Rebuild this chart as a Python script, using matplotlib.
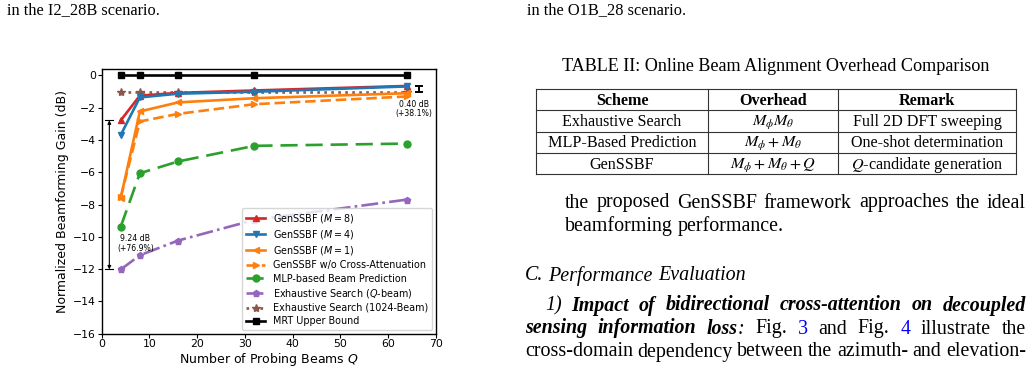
import matplotlib
matplotlib.use('Agg')
import matplotlib.pyplot as plt

W, H = 1034, 374

# ---------------- chart data ----------------
Q = [4, 8, 16, 32, 64]
gen_m8 = [-2.78, -1.25, -1.08, -0.93, -0.65]
gen_m4 = [-3.68, -1.36, -1.13, -1.01, -0.68]
gen_m1 = [-7.57, -2.23, -1.67, -1.41, -1.10]
gen_noca = [-7.55, -2.85, -2.38, -1.78, -1.30]
mlp = [-9.36, -6.06, -5.33, -4.36, -4.22]
exh_q = [-12.02, -11.14, -10.23, -8.95, -7.69]
exh_1024 = [-1.05, -1.05, -1.05, -1.05, -1.05]
mrt = [0.0, 0.0, 0.0, 0.0, 0.0]

labels = [r'GenSSBF ($M=8$)', r'GenSSBF ($M=4$)', r'GenSSBF ($M=1$)',
          'GenSSBF w/o Cross-Attenuation', 'MLP-based Beam Prediction',
          r'Exhaustive Search ($Q$-beam)', 'Exhaustive Search (1024-Beam)',
          'MRT Upper Bound']
xticks = [0, 10, 20, 30, 40, 50, 60, 70]
yticks = [0, -2, -4, -6, -8, -10, -12, -14, -16]

gap_low_text = '9.24 dB\n(+76.9%)'
gap_high_text = '0.40 dB\n(+38.1%)'

# ---------------- page text data ----------------
caption_left = 'in the I2_28B scenario.'
caption_right = 'in the O1B_28 scenario.'
table_title = 'TABLE II: Online Beam Alignment Overhead Comparison'
table_header = ['Scheme', 'Overhead', 'Remark']
table_rows = [
    ['Exhaustive Search', r'$M_\phi M_\theta$', 'Full 2D DFT sweeping'],
    ['MLP-Based Prediction', r'$M_\phi + M_\theta$', 'One-shot determination'],
    ['GenSSBF', r'$M_\phi + M_\theta + Q$', r'$Q$-candidate generation'],
]

SERIF = 'Liberation Serif'

fig = plt.figure(figsize=(W / 100, H / 100), dpi=100)
fig.patch.set_facecolor('white')
renderer = fig.canvas.get_renderer()


def fx(x):
    return x / W


def fy(y):
    return 1 - y / H


# ---------------- chart ----------------
ax = fig.add_axes([101.7 / W, 1 - 333.7 / H, (435.7 - 101.7) / W, (333.7 - 69.0) / H])
lw = 1.9
ms = 5
ax.plot(Q, gen_m8, color='tab:red', marker='^', ls='-', lw=lw, ms=ms, label=labels[0], zorder=5)
ax.plot(Q, gen_m4, color='tab:blue', marker='v', ls='-', lw=lw, ms=ms, label=labels[1], zorder=5)
ax.plot(Q, gen_m1, color='tab:orange', marker='<', ls='-', lw=lw, ms=ms, label=labels[2], zorder=4)
ax.plot(Q, gen_noca, color='tab:orange', marker='>', ls=(0, (4.0, 1.8)), lw=lw, ms=ms, label=labels[3], zorder=4)
ax.plot(Q, mlp, color='tab:green', marker='o', ls=(0, (6.5, 3.0)), lw=lw, ms=ms, label=labels[4], zorder=3)
ax.plot(Q, exh_q, color='tab:purple', marker='p', ls='-.', lw=lw, ms=ms, label=labels[5], zorder=3)
ax.plot(Q, exh_1024, color='tab:brown', marker='*', ls=':', lw=lw, ms=ms + 1, label=labels[6], zorder=3)
ax.plot(Q, mrt, color='black', marker='s', ls='-', lw=lw, ms=ms, label=labels[7], zorder=6)

ax.set_xlim(0, 70)
ax.set_ylim(-16, 0.4)
ax.set_xticks(xticks)
ax.set_yticks(yticks)
ax.tick_params(labelsize=7.8, length=2.6, pad=1.5, width=0.8)
ax.set_xlabel(r'Number of Probing Beams $Q$', fontsize=9, labelpad=1)
ax.set_ylabel('Normalized Beamforming Gain (dB)', fontsize=9, labelpad=3)
for sp in ax.spines.values():
    sp.set_linewidth(1.0)

# gap annotations
y_top = gen_m8[0]
y_bot = exh_q[0]
ax.annotate('', xy=(1.6, y_bot), xytext=(1.6, y_top),
            arrowprops=dict(arrowstyle='<|-|>', lw=0.8, color='black',
                            shrinkA=0, shrinkB=0, mutation_scale=5))
ax.plot([0.7, 2.4], [y_top, y_top], color='black', lw=0.8, clip_on=False)
ax.plot([0.7, 2.4], [y_bot, y_bot], color='black', lw=0.8, clip_on=False)
ax.text(7.05, -10.4, gap_low_text, fontsize=5.6, ha='center', va='center', linespacing=1.1)

ax.errorbar([66.4], [(gen_m8[-1] + exh_1024[-1]) / 2], yerr=[(gen_m8[-1] - exh_1024[-1]) / 2],
            color='black', lw=1.4, capsize=2.9, capthick=1.4, fmt='none', zorder=7)
ax.text(65.5, -2.07, gap_high_text, fontsize=5.6, ha='center', va='center', linespacing=1.1)

ax.legend(loc='lower right', fontsize=6.9, labelspacing=0.33, borderaxespad=0.4,
          handlelength=2.0, borderpad=0.4, handletextpad=0.8)


# ---------------- page text ----------------
STY = {
    'r': dict(style='normal', weight='normal', color='black'),
    'i': dict(style='italic', weight='normal', color='black'),
    'bi': dict(style='italic', weight='bold', color='black'),
    'blue': dict(style='normal', weight='normal', color='#0000ff'),
}


def seg_width(text, size, s):
    t = fig.text(0, 0, text, fontfamily=SERIF, fontsize=size, **STY[s])
    w = t.get_window_extent(renderer).width
    t.remove()
    return w


def words_of(segs):
    words = [[]]
    for text, s in segs:
        parts = text.split(' ')
        for i, p in enumerate(parts):
            if i > 0:
                words.append([])
            if p:
                words[-1].append((p, s))
    return [w for w in words if w]


def draw_line(segs, x0, x1, yb, size, justify=True):
    words = words_of(segs)
    widths = [[seg_width(t, size, s) for t, s in w] for w in words]
    tot = sum(sum(ws) for ws in widths)
    n = len(words)
    if justify and n > 1:
        gap = (x1 - x0 - tot) / (n - 1)
    else:
        gap = 0.25 * size * 100 / 72
    x = x0
    for w, ws in zip(words, widths):
        for (t, s), sw in zip(w, ws):
            fig.text(fx(x), fy(yb), t, fontfamily=SERIF, fontsize=size,
                     va='baseline', ha='left', **STY[s])
            x += sw
        x += gap


BODY = 14.4
fig.text(fx(7), fy(14), caption_left, fontfamily=SERIF, fontsize=11.8, va='baseline', ha='left')
fig.text(fx(526.7), fy(14), caption_right, fontfamily=SERIF, fontsize=11.8, va='baseline', ha='left')
fig.text(fx(775.7), fy(71), table_title, fontfamily=SERIF, fontsize=13.1, va='baseline', ha='center')

# table
tx = [535.7, 708.3, 838.3, 1015.7]
ty = [89.0, 110.3, 131.6, 152.9, 174.2]
lc = '#333333'
for y in ty:
    fig.add_artist(plt.Line2D([fx(tx[0]), fx(tx[-1])], [fy(y), fy(y)], color=lc, lw=0.8))
for x in tx:
    fig.add_artist(plt.Line2D([fx(x), fx(x)], [fy(ty[0]), fy(ty[-1])], color=lc, lw=0.8))
TS = 11.6
for j, h in enumerate(table_header):
    xc = (tx[j] + tx[j + 1]) / 2
    yc = (ty[0] + ty[1]) / 2
    fig.text(fx(xc), fy(yc + 5), h, fontfamily=SERIF, fontsize=TS, weight='bold',
             ha='center', va='baseline')
for i, row in enumerate(table_rows):
    for j, cell in enumerate(row):
        xc = (tx[j] + tx[j + 1]) / 2
        yc = (ty[i + 1] + ty[i + 2]) / 2
        fig.text(fx(xc), fy(yc + 5), cell, fontfamily=SERIF, fontsize=TS,
                 math_fontfamily='stix', ha='center', va='baseline')

XR = 1026
draw_line([('the proposed GenSSBF framework approaches the ideal', 'r')], 565, XR, 207.5, BODY)
draw_line([('beamforming performance.', 'r')], 565, XR, 230.5, BODY, justify=False)
draw_line([('C.', 'i'), (' ', 'i'), ('Performance Evaluation', 'i')], 525, XR, 280.5, BODY, justify=False)
draw_line([('1) ', 'i'), ('Impact of bidirectional cross-attention on decoupled', 'bi')],
          545, XR, 310.5, BODY)
draw_line([('sensing information loss', 'bi'), (':', 'i'), (' Fig. ', 'r'), ('3', 'blue'),
           (' and Fig. ', 'r'), ('4', 'blue'), (' illustrate the', 'r')], 525, XR, 333.5, BODY)
draw_line([('cross-domain dependency between the azimuth- and elevation-', 'r')], 525, XR, 356.5, BODY)

fig.savefig('out.png', dpi=100, facecolor='white')
